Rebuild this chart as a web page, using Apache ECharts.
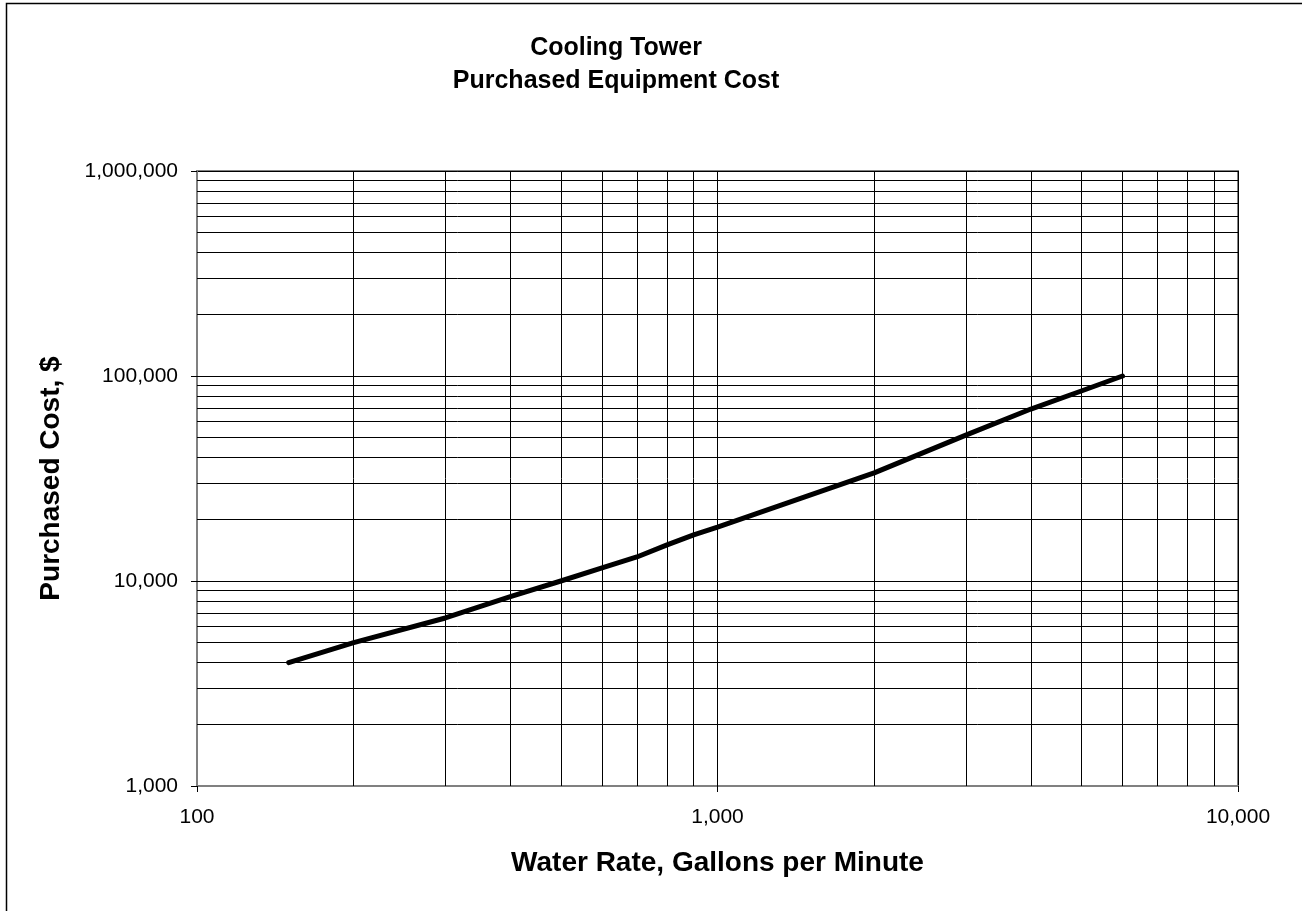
<!DOCTYPE html>
<html>
<head>
<meta charset="utf-8">
<script src="https://cdn.jsdelivr.net/npm/echarts@6/dist/echarts.min.js"></script>
<style>html,body{margin:0;padding:0;background:#fff}#c{width:1302px;height:911px}</style>
</head>
<body>
<div id="c"></div>
<script>
var waterRate = [150, 200, 300, 400, 500, 600, 700, 800, 900, 1000, 2000, 3000, 4000, 5000, 6000];
var cost = [4000, 5000, 6600, 8400, 10000, 11600, 13100, 15000, 16800, 18300, 33700, 51500, 69000, 84500, 100000];
var xGridValues = [200,300,400,500,600,700,800,900,1000,2000,3000,4000,5000,6000,7000,8000,9000];
var yGridValues = [2000,3000,4000,5000,6000,7000,8000,9000,10000,20000,30000,40000,50000,60000,70000,80000,90000,100000,200000,300000,400000,500000,600000,700000,800000,900000];

var font = 'Liberation Sans, Arial, sans-serif';
function fmt(v){ return Math.round(v).toLocaleString('en-US'); }

var gridLines = [];
xGridValues.forEach(function(v){ gridLines.push({xAxis: v}); });
yGridValues.forEach(function(v){ gridLines.push({yAxis: v}); });

var chart = echarts.init(document.getElementById('c'), null, {renderer: 'canvas'});
chart.setOption({
  animation: false,
  backgroundColor: '#fff',
  title: {
    text: 'Cooling Tower\nPurchased Equipment Cost',
    left: 611, textAlign: 'center', top: 27,
    textStyle: {fontFamily: font, fontSize: 25, fontWeight: 'bold', color: '#000', lineHeight: 33}
  },
  graphic: [{
    type: 'rect', shape: {x: 6.5, y: 3.5, width: 1310, height: 920},
    style: {fill: 'none', stroke: '#000', lineWidth: 1.5}, silent: true, z: -1
  }],
  grid: {left: 197, right: 64, top: 171, bottom: 125, show: true, borderColor: '#808080', borderWidth: 2, backgroundColor: 'transparent'},
  xAxis: {
    type: 'log', min: 100, max: 10000, logBase: 10,
    name: 'Water Rate, Gallons per Minute', nameLocation: 'middle', nameGap: 63,
    nameTextStyle: {fontFamily: font, fontSize: 28, fontWeight: 'bold', color: '#000'},
    axisLine: {lineStyle: {color: '#808080', width: 2}},
    axisTick: {show: true, length: 6, lineStyle: {color: '#000', width: 1}},
    axisLabel: {fontFamily: font, fontSize: 21, color: '#000', margin: 21, formatter: fmt},
    splitLine: {show: true, lineStyle: {color: '#000', width: 1}},
    minorTick: {show: false}, minorSplitLine: {show: false}
  },
  yAxis: {
    type: 'log', min: 1000, max: 1000000, logBase: 10,
    name: 'Purchased Cost, $', nameLocation: 'middle', nameGap: 132,
    nameTextStyle: {fontFamily: font, fontSize: 28, fontWeight: 'bold', color: '#000'},
    axisLine: {show: true, lineStyle: {color: '#808080', width: 2}},
    axisTick: {show: true, length: 6, lineStyle: {color: '#000', width: 1}},
    axisLabel: {fontFamily: font, fontSize: 21, color: '#000', margin: 19, formatter: fmt},
    splitLine: {show: true, lineStyle: {color: '#000', width: 1}}
  },
  series: [{
    type: 'line',
    data: waterRate.map(function(x, i){ return [x, cost[i]]; }),
    showSymbol: false, symbol: 'none', smooth: false,
    lineStyle: {color: '#000', width: 5, cap: 'round', join: 'round'},
    z: 5,
    markLine: {
      silent: true, symbol: ['none', 'none'], label: {show: false},
      lineStyle: {color: '#000', width: 1, type: 'solid'},
      data: gridLines, z: 1, animation: false
    }
  }]
});
</script>
</body>
</html>
